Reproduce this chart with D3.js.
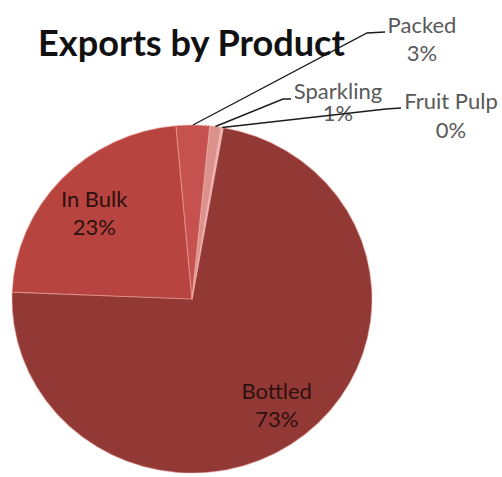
<!DOCTYPE html>
<html>
<head>
<meta charset="utf-8">
<script src="https://cdn.jsdelivr.net/npm/d3@7"></script>
<style>
  html, body { margin: 0; padding: 0; background: #ffffff; }
  svg { display: block; }
</style>
</head>
<body>
<svg id="chart" width="502" height="477"></svg>
<script>
// Export shares by product (percent)
const categories = ["Bottled", "In Bulk", "Packed", "Sparkling", "Fruit Pulp"];
const shares = [73, 23, 3, 1, 0.2];
const sliceColors = ["#933935", "#b8443f", "#c5524e", "#dc918d", "#eab8b5"];
const titleText = "Exports by Product";

const W = 502, H = 477;
const svg = d3.select("#chart");

// Pie geometry (slightly squashed vertically)
const cx = 192, cy = 299, R = 177;
const sx = 180 / R, sy = 174 / R;
const startDeg = 10;

const total = d3.sum(shares);
const pct = v => Math.round(v / total * 100) + "%";

const pie = d3.pie()
  .sort(null)
  .value(d => d.value)
  .startAngle(startDeg * Math.PI / 180)
  .endAngle(startDeg * Math.PI / 180 + 2 * Math.PI);

const data = categories.map((c, i) => ({ name: c, value: shares[i], color: sliceColors[i] }));
const arcs = pie(data);

const arc = d3.arc().innerRadius(0).outerRadius(R);

const g = svg.append("g")
  .attr("transform", `translate(${cx},${cy}) scale(${sx},${sy})`);

g.selectAll("path.slice")
  .data(arcs)
  .join("path")
  .attr("class", "slice")
  .attr("d", arc)
  .attr("fill", d => d.data.color)
  .attr("stroke", "rgba(240,170,165,0.45)")
  .attr("stroke-width", 1.2)
  .attr("stroke-linejoin", "round");

// Map a point in pie space to page coordinates
const toPage = ([x, y]) => [cx + x * sx, cy + y * sy];

// Inside labels for the two large slices
const innerArc = d3.arc().innerRadius(R * 0.75).outerRadius(R * 0.75);
const labelFont = "Lato, 'Open Sans', sans-serif";
arcs.filter(a => a.data.value >= 10).forEach(a => {
  const [x, y] = toPage(innerArc.centroid(a));
  const t = svg.append("text")
    .attr("x", x).attr("y", y - 2)
    .attr("text-anchor", "middle")
    .attr("font-family", labelFont)
    .attr("font-size", 22)
    .attr("fill", "#2e100f");
  t.append("tspan").attr("x", x).attr("dy", 0).text(a.data.name);
  t.append("tspan").attr("x", x).attr("dy", 28).text(pct(a.data.value));
});

// Outside labels with leader lines for the small slices
const outsideLayout = {
  "Packed":     { elbow: [367, 33], end: [385, 32], label: [422, 33], lines: 28 },
  "Sparkling":  { elbow: [283, 99], end: [291, 99], label: [338, 99], lines: 22 },
  "Fruit Pulp": { elbow: [386, 109], end: [401, 108], label: [451, 109], lines: 29 }
};

const edgeArc = d3.arc().innerRadius(R).outerRadius(R);
arcs.filter(a => outsideLayout[a.data.name]).forEach(a => {
  const L = outsideLayout[a.data.name];
  const start = toPage(edgeArc.centroid(a));
  svg.append("path")
    .attr("d", d3.line()([start, L.elbow, L.end]))
    .attr("fill", "none")
    .attr("stroke", "#1c1c1c")
    .attr("stroke-width", 1.4);
  const t = svg.append("text")
    .attr("x", L.label[0]).attr("y", L.label[1])
    .attr("text-anchor", "middle")
    .attr("font-family", labelFont)
    .attr("font-size", 22)
    .attr("fill", "#595959");
  t.append("tspan").attr("x", L.label[0]).attr("dy", 0).text(a.data.name);
  t.append("tspan").attr("x", L.label[0]).attr("dy", L.lines).text(pct(a.data.value));
});

// Title, fitted to its width
const title = svg.append("text")
  .attr("x", 38).attr("y", 56)
  .attr("font-family", "Lato, 'Open Sans', sans-serif")
  .attr("font-weight", "bold")
  .attr("font-size", 32)
  .attr("fill", "#111111")
  .text(titleText);
const tw = title.node().getComputedTextLength();
title.attr("font-size", 32 * 307 / tw);
</script>
</body>
</html>
